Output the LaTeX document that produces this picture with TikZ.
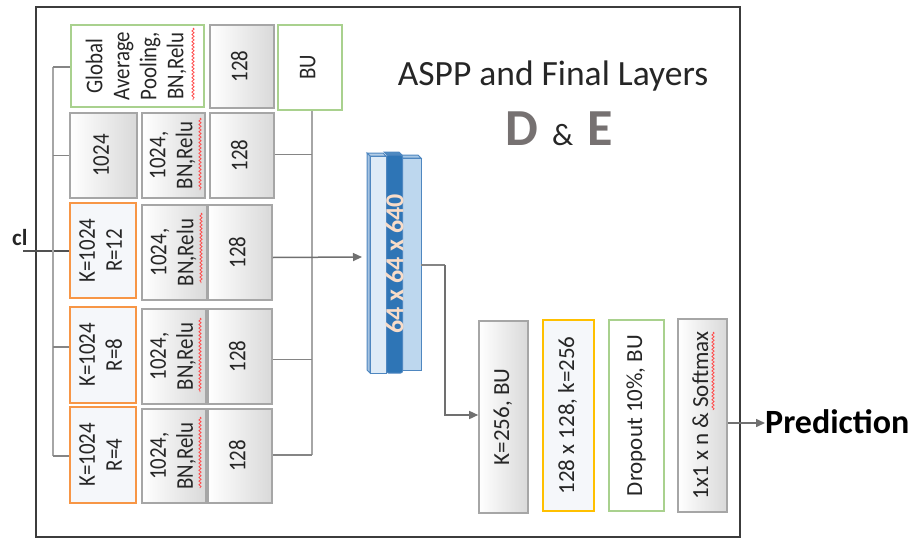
\documentclass[tikz,border=0pt]{standalone}
\usepackage{fontspec}
\setmainfont{Carlito}
\newfontfamily\narrowfont[FakeStretch=0.87]{Carlito}
\usetikzlibrary{arrows.meta,decorations.pathmorphing,calc}

\definecolor{boxline}{HTML}{A6A6A6}
\definecolor{boxshade}{HTML}{D9D9D9}
\definecolor{orangeline}{HTML}{F79646}
\definecolor{yellowline}{HTML}{FFC000}
\definecolor{greenline}{HTML}{A9D18E}
\definecolor{paleblue}{HTML}{F5F7FA}
\definecolor{wire}{HTML}{858585}
\definecolor{buswire}{HTML}{A6A6A6}
\definecolor{arrowgray}{HTML}{707070}
\definecolor{frameline}{HTML}{3C3C3C}
\definecolor{slabdark}{HTML}{2E75B6}
\definecolor{slabmid}{HTML}{BDD7EE}
\definecolor{slablight}{HTML}{DEEBF7}
\definecolor{slabedge}{HTML}{4F87C0}
\definecolor{labelpeach}{HTML}{F8DCC8}
\definecolor{textdark}{HTML}{262626}
\definecolor{letgray}{HTML}{767171}
\definecolor{squiggle}{HTML}{FF4B4B}

% rotated, centred multi-line label
\newcommand{\rt}[1]{\rotatebox{90}{\begin{tabular}{@{}c@{}}#1\end{tabular}}}
% layer box given by its corners: name, x1, y1, x2, y2, style, text
\newcommand{\layer}[7]{%
  \node[#6, minimum width={(#4-#2)*1pt}, minimum height={(#5-#3)*1pt}]
    (#1) at ({(#2+#4)/2},{(#3+#5)/2}) {\rt{#7}};}

\tikzset{
  basebox/.style={line width=1.6pt, inner sep=0pt, text=textdark,
    font=\narrowfont\fontsize{24}{27}\selectfont},
  graybox/.style={basebox, draw=boxline, left color=white, right color=boxshade},
  orangebox/.style={basebox, draw=orangeline, fill=paleblue},
  greenbox/.style={basebox, draw=greenline, fill=white},
  yellowbox/.style={basebox, draw=yellowline, fill=paleblue},
  bigtext/.style={font=\fontsize{23}{28}\selectfont},
  wireline/.style={draw=wire, line width=1.5pt},
  busline/.style={draw=buswire, line width=2pt},
  flow/.style={draw=arrowgray, line width=1.5pt,
    -{Triangle[length=9pt,width=8pt]}},
  redwave/.style={draw=squiggle, line width=0.8pt, decorate,
    decoration={snake, amplitude=1.1pt, segment length=3.6pt}},
  slab/.style={draw=slabedge, line width=1pt},
}

\begin{document}
\begin{tikzpicture}[x=1pt,y=-1pt]
\useasboundingbox (0,0) rectangle (915,538);

% outer frame
\draw[frameline, line width=1.6pt] (36,7) rectangle (740,537);

% title
\node[font=\fontsize{35.5}{40}\selectfont, text=textdark, anchor=base]
  (title) at (553,85) {ASPP and Final Layers};
\node[anchor=base, inner sep=0pt] (de) at (559,145)
  {\fontsize{52}{60}\selectfont\bfseries\color{letgray}D\,%
   \fontsize{31}{36}\selectfont\mdseries\color{textdark}\,\&\,%
   \fontsize{52}{60}\selectfont\bfseries\color{letgray}\,E};

% ASPP branches
\layer{gap}{71}{25}{204}{107}{greenbox}{Global\\Average\\Pooling,\\BN,Relu}
\layer{gapc}{210}{25}{274}{108}{graybox}{128}
\layer{bu}{278}{25}{342}{110}{greenbox}{BU}

\layer{k1}{70}{113}{137}{198}{graybox}{1024}
\layer{k1b}{142}{113}{205}{198}{graybox}{1024,\\BN,Relu}
\layer{k1c}{210}{113}{274}{198}{graybox}{128}

\layer{r12}{70}{203}{136}{298}{orangebox}{K=1024\\R=12}
\layer{r12b}{142}{205}{207}{300}{graybox}{1024,\\BN,Relu}
\layer{r12c}{208}{205}{272}{300}{graybox}{128}

\layer{r8}{70}{307}{136}{403}{orangebox}{K=1024\\R=8}
\layer{r8b}{142}{309}{206}{404}{graybox}{1024,\\BN,Relu}
\layer{r8c}{208}{309}{272}{404}{graybox}{128}

\layer{r4}{70}{407}{136}{503}{orangebox}{K=1024\\R=4}
\layer{r4b}{142}{409}{206}{503}{graybox}{1024,\\BN,Relu}
\layer{r4c}{208}{409}{272}{503}{graybox}{128}

% spell-check waves
\draw[redwave] (193,28) -- (193,100);
\draw[redwave] (200,118) -- (200,190);
\draw[redwave] (201,213) -- (201,283);
\draw[redwave] (200,318) -- (200,392);
\draw[redwave] (200,417) -- (200,488);

% input
\node[font=\fontsize{23}{28}\selectfont\bfseries, text=textdark, anchor=base west,
  inner sep=0pt] (cin) at (12,245) {cl};
\coordinate (cinEnd) at (23,251);
\draw[draw=textdark!80, line width=1.3pt] (cinEnd) -- (cinEnd -| r12.west);

% left distribution bus
\coordinate (lbTop) at (53,67);
\coordinate (lbBot) at (53,456);
\draw[busline] (lbTop) -- (lbBot);
\draw[wireline] (lbTop) -- (lbTop -| gap.west);
\draw[wireline] (k1.west -| lbTop) -- (k1.west);
\draw[wireline] ([yshift=8pt]r8.west -| lbTop) -- ([yshift=8pt]r8.west);
\draw[wireline] (lbBot) -- (lbBot -| r4.west);

% right collecting bus
\coordinate (rbBot) at (312,455);
\draw[busline] (bu.south -| rbBot) -- (rbBot);
\draw[wireline] ([yshift=1pt]k1c.east) -- ([yshift=1pt]k1c.east -| rbBot);
\draw[wireline] ([yshift=-3pt]r8c.east) -- ([yshift=-3pt]r8c.east -| rbBot);
\draw[wireline] (rbBot -| r4c.east) -- (rbBot);

% concatenated feature block
\draw[slab, fill=slablight!70!slabedge] (367,153) -- (383,153) -- (386,156) -- (370,156) -- cycle;
\draw[slab, fill=slablight!60!slabedge] (367,153) -- (370,156) -- (370,373) -- (367,370) -- cycle;
\draw[slab, fill=slablight] (370,156) rectangle (386,373);
\draw[slab, fill=slabmid!80!slabedge] (399,155) -- (418,155) -- (421,158) -- (402,158) -- cycle;
\draw[slab, fill=slabmid] (402,158) rectangle (421,370);
\draw[slab, fill=slabdark!85!white] (384,152) -- (399,152) -- (402,155) -- (387,155) -- cycle;
\node[draw=slabedge, line width=1pt, fill=slabdark, minimum width=16pt,
  minimum height=218pt, inner sep=0pt, rounded corners=2pt] (feat) at (394.5,264) {};
\node[font=\fontsize{26}{30}\selectfont\bfseries, text=labelpeach, rotate=90,
  inner sep=0pt] (featlabel) at (feat.center) {64 x 64 x 640};
\coordinate (featL) at (362,257);
\coordinate (featR) at (421,265);

\draw[flow] ([yshift=-5pt]r12c.east) -- (featL);

% final layers
\layer{k256}{479}{321}{528}{513}{graybox, bigtext}{K=256, BU}
\layer{up}{543}{320}{594}{511}{yellowbox, bigtext}{128 x 128, k=256}
\layer{drop}{609}{320}{664}{511}{greenbox, bigtext}{Dropout 10\%, BU}
\layer{soft}{678}{319}{727}{512}{graybox, bigtext}{1x1 x n \& Softmax}
\draw[redwave] (713,332) -- (713,410);

\coordinate (bend) at (445,265);
\draw[wireline] (featR) -- (bend);
\draw[flow] (bend) |- ([yshift=2pt]k256.west);

\node[font=\fontsize{34}{40}\selectfont\bfseries, text=black, anchor=base west,
  inner sep=0pt] (pred) at (765,433) {Prediction};
\draw[flow] ([yshift=-7.5pt]soft.east) -- ([yshift=-7.5pt]soft.east -| pred.west);
\end{tikzpicture}
\end{document}
